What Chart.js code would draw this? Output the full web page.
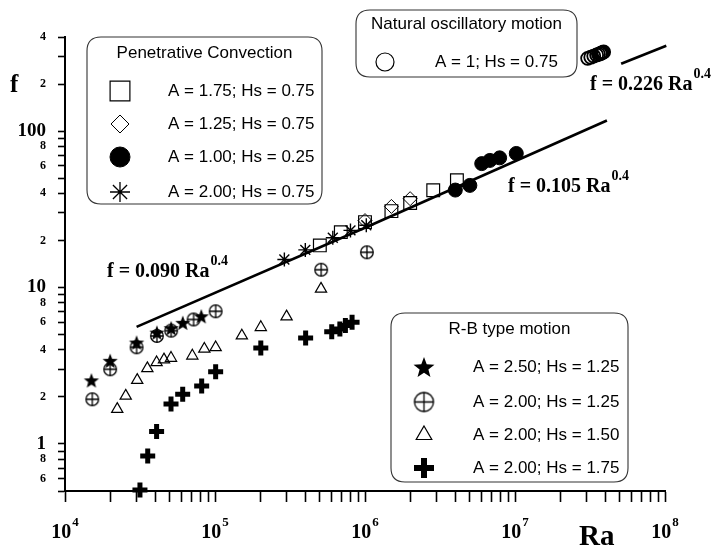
<!DOCTYPE html>
<html>
<head>
<meta charset="utf-8">
<script src="https://cdn.jsdelivr.net/npm/chart.js@4.4.1/dist/chart.umd.min.js"></script>
<style>
  html, body { margin: 0; padding: 0; background: #fff; }
</style>
</head>
<body>
<canvas id="raChart" width="711" height="554"></canvas>
<script>
// ---- data ----
// Penetrative convection
const squareRa = [5.0e5, 6.9e5, 1.0e6, 1.5e6, 2.0e6, 2.85e6, 4.1e6];
const squareF  = [18.6, 22.6, 26.2, 30.8, 34.7, 41.9, 48.5];
const diamondRa = [1.0e6, 1.5e6, 2.0e6];
const diamondF  = [26.8, 33.0, 37.0];
const dotRa = [4.0e6, 5.0e6, 6.0e6, 6.8e6, 7.9e6, 1.02e7];
const dotF  = [42, 45, 62, 65, 67.5, 72];
const asterRa = [2.9e5, 4.0e5, 6.1e5, 8.0e5, 1.02e6];
const asterF  = [15.1, 17.4, 20.8, 23.2, 25.0];

// Natural oscillatory motion
const oscRa = [3.05e7, 3.2e7, 3.35e7, 3.5e7, 3.6e7, 3.7e7, 3.75e7, 3.8e7, 3.85e7, 3.9e7];
const oscF  = [292, 297, 302, 307, 310, 313, 315, 317, 319, 321];

// R-B type motion
const starRa = [1.5e4, 2.0e4, 3.0e4, 4.1e4, 5.1e4, 6.1e4, 8.1e4];
const starF  = [2.55, 3.4, 4.45, 5.15, 5.5, 5.95, 6.55];
const oplusRa = [1.52e4, 2.0e4, 3.0e4, 4.1e4, 5.1e4, 7.2e4, 1.01e5, 5.1e5, 1.03e6];
const oplusF  = [1.93, 3.0, 4.15, 4.9, 5.3, 6.25, 7.05, 13.0, 16.8];
const triRa = [2.23e4, 2.54e4, 3.03e4, 3.54e4, 4.08e4, 4.57e4, 5.09e4, 7.06e4, 8.49e4, 1.01e5, 1.51e5, 2.02e5, 3.0e5, 5.09e5];
const triF  = [1.67, 2.03, 2.56, 3.04, 3.32, 3.46, 3.54, 3.66, 4.05, 4.14, 4.92, 5.57, 6.52, 9.81];
const plusRa = [3.16e4, 3.56e4, 4.08e4, 5.09e4, 6.09e4, 8.15e4, 1.01e5, 2.02e5, 4.02e5, 6.0e5, 6.8e5, 7.4e5, 8.2e5];
const plusF  = [0.507, 0.838, 1.2, 1.8, 2.08, 2.35, 2.89, 4.1, 4.76, 5.22, 5.43, 5.71, 5.99];

// fitted lines (end points)
const fit090Ra = [3.0e4, 1.0e6];
const fit090F  = [5.6, 24.1];
const fit105Ra = [1.0e6, 4.1e7];
const fit105F  = [24.1, 117];
const fit226Ra = [5.1e7, 1.02e8];
const fit226F  = [270, 352];

// axes
const xDecades = [4, 5, 6, 7, 8];
const yTickVals   = [0.5, 0.6, 0.7, 0.8, 0.9, 1, 2, 3, 4, 5, 6, 7, 8, 9, 10, 20, 30, 40, 50, 60, 70, 80, 90, 100, 200, 300, 400];
const yTickLabels = ['', '6', '', '8', '', '1', '2', '', '4', '', '6', '', '8', '', '10', '2', '', '4', '', '6', '', '8', '', '100', '2', '', '4'];
const yMajor = [1, 10, 100];

const penTitle = 'Penetrative Convection';
const penLabels = ['A = 1.75; Hs = 0.75', 'A = 1.25; Hs = 0.75', 'A = 1.00; Hs = 0.25', 'A = 2.00; Hs = 0.75'];
const oscTitle = 'Natural oscillatory motion';
const oscLabel = 'A = 1; Hs = 0.75';
const rbTitle = 'R-B type motion';
const rbLabels = ['A = 2.50; Hs = 1.25', 'A = 2.00; Hs = 1.25', 'A = 2.00; Hs = 1.50', 'A = 2.00; Hs = 1.75'];

const serif = '"Liberation Serif", "Times New Roman", serif';
const sans = '"Liberation Sans", Arial, sans-serif';

// ---- custom marker images ----
function starCanvas(R) {
  const c = document.createElement('canvas');
  const s = Math.ceil(R * 2 + 2);
  c.width = s; c.height = s;
  const g = c.getContext('2d');
  g.translate(s / 2, s / 2 + R * 0.1);
  g.beginPath();
  for (let i = 0; i < 10; i++) {
    const r = i % 2 === 0 ? R : R * 0.42;
    const a = -Math.PI / 2 + i * Math.PI / 5;
    g.lineTo(r * Math.cos(a), r * Math.sin(a));
  }
  g.closePath();
  g.fillStyle = '#000';
  g.fill();
  return c;
}

function oplusCanvas(R, lw) {
  const c = document.createElement('canvas');
  const s = Math.ceil(R * 2 + lw + 2);
  c.width = s; c.height = s;
  const g = c.getContext('2d');
  g.translate(s / 2, s / 2);
  g.strokeStyle = '#000';
  g.lineWidth = lw;
  g.beginPath();
  g.arc(0, 0, R, 0, Math.PI * 2);
  g.moveTo(-R, 0); g.lineTo(R, 0);
  g.moveTo(0, -R); g.lineTo(0, R);
  g.stroke();
  return c;
}

const starImg = starCanvas(8);
const oplusImg = oplusCanvas(6.3, 1.3);
const starImgBig = starCanvas(11);
const oplusImgBig = oplusCanvas(9.5, 1.3);

function pts(xs, ys) {
  return xs.map((x, i) => ({ x: x, y: ys[i] }));
}

function markers(label, xs, ys, style, radius, fill, bw) {
  return {
    label: label,
    data: pts(xs, ys),
    pointStyle: style,
    pointRadius: radius,
    pointHoverRadius: radius,
    pointBackgroundColor: fill,
    pointBorderColor: '#000',
    pointBorderWidth: bw,
    showLine: false,
    clip: false
  };
}

function fitLine(label, xs, ys) {
  return {
    label: label,
    data: pts(xs, ys),
    showLine: true,
    borderColor: '#000',
    borderWidth: 2.6,
    pointRadius: 0,
    fill: false,
    clip: false
  };
}

const datasets = [
  markers(penLabels[2], dotRa, dotF, 'circle', 7, '#000', 1),
  markers(penLabels[0], squareRa, squareF, 'rect', 9, 'rgba(0,0,0,0)', 1.2),
  markers(penLabels[1], diamondRa, diamondF, 'rectRot', 7, 'rgba(0,0,0,0)', 1),
  markers(penLabels[3], asterRa, asterF, 'star', 7, 'rgba(0,0,0,0)', 1.4),
  markers(oscLabel, oscRa, oscF, 'circle', 6.5, 'rgba(0,0,0,0)', 1.8),
  markers(rbLabels[0], starRa, starF, starImg, 8, '#000', 1),
  markers(rbLabels[1], oplusRa, oplusF, oplusImg, 7, 'rgba(0,0,0,0)', 1),
  markers(rbLabels[2], triRa, triF, 'triangle', 6.5, 'rgba(0,0,0,0)', 1.2),
  markers(rbLabels[3], plusRa, plusF, 'cross', 7.5, '#000', 5),
  fitLine('f = 0.090 Ra^0.4', fit090Ra, fit090F),
  fitLine('f = 0.105 Ra^0.4', fit105Ra, fit105F),
  fitLine('f = 0.226 Ra^0.4', fit226Ra, fit226F)
];

// ---- drawing helpers ----
function roundBox(ctx, x, y, w, h, r) {
  ctx.beginPath();
  ctx.moveTo(x + r, y);
  ctx.lineTo(x + w - r, y);
  ctx.quadraticCurveTo(x + w, y, x + w, y + r);
  ctx.lineTo(x + w, y + h - r);
  ctx.quadraticCurveTo(x + w, y + h, x + w - r, y + h);
  ctx.lineTo(x + r, y + h);
  ctx.quadraticCurveTo(x, y + h, x, y + h - r);
  ctx.lineTo(x, y + r);
  ctx.quadraticCurveTo(x, y, x + r, y);
  ctx.closePath();
}

function symbol(ctx, sym, x, y) {
  ctx.save();
  ctx.strokeStyle = '#000';
  ctx.fillStyle = sym.fill || 'rgba(0,0,0,0)';
  ctx.lineWidth = sym.lw || 1;
  Chart.helpers.drawPoint(ctx, { pointStyle: sym.style, radius: sym.r, rotation: 0, borderWidth: sym.lw || 1 }, x, y);
  ctx.restore();
}

function powerText(ctx, x, y, base, exp, big, small, rise) {
  ctx.textAlign = 'left';
  ctx.textBaseline = 'alphabetic';
  ctx.font = 'bold ' + big + 'px ' + serif;
  ctx.fillText(base, x, y);
  const w = ctx.measureText(base).width;
  ctx.font = 'bold ' + small + 'px ' + serif;
  ctx.fillText(exp, x + w + 1, y - rise);
}

const legendBoxes = [
  {
    title: penTitle, x: 87, y: 37, w: 235, h: 167, titleY: 53, symX: 120, textX: 168,
    rows: [91, 124, 157, 192],
    labels: penLabels,
    syms: [
      { style: 'rect', r: 14, lw: 1.2 },
      { style: 'rectRot', r: 9, lw: 1 },
      { style: 'circle', r: 10, fill: '#000' },
      { style: 'star', r: 10, lw: 1.3 }
    ]
  },
  {
    title: oscTitle, x: 356, y: 10, w: 221, h: 67, titleY: 24, symX: 385, textX: 435,
    rows: [62],
    labels: [oscLabel],
    syms: [{ style: 'circle', r: 9, lw: 1.2 }]
  },
  {
    title: rbTitle, x: 391, y: 313, w: 237, h: 169, titleY: 329, symX: 424, textX: 473,
    rows: [367, 402, 435, 468],
    labels: rbLabels,
    syms: [
      { style: starImgBig, r: 10 },
      { style: oplusImgBig, r: 10 },
      { style: 'triangle', r: 9, lw: 1.2 },
      { style: 'cross', r: 10, lw: 6 }
    ]
  }
];

const annotate = {
  id: 'annotate',
  afterDraw(chart) {
    const ctx = chart.ctx;
    const xs = chart.scales.x;
    ctx.save();
    ctx.fillStyle = '#000';

    // x tick labels 10^n
    xDecades.forEach(p => {
      const px = xs.getPixelForValue(Math.pow(10, p));
      ctx.font = 'bold 20px ' + serif;
      const w1 = ctx.measureText('10').width;
      ctx.font = 'bold 13px ' + serif;
      const w2 = ctx.measureText(String(p)).width;
      powerText(ctx, px - (w1 + w2 + 1) / 2, 538, '10', String(p), 20, 13, 12);
    });

    // axis titles
    ctx.textAlign = 'left';
    ctx.textBaseline = 'alphabetic';
    ctx.font = 'bold 25px ' + serif;
    ctx.fillText('f', 10, 92);
    ctx.font = 'bold 29px ' + serif;
    ctx.fillText('Ra', 579, 545);

    // fit labels
    powerText(ctx, 107, 277, 'f = 0.090 Ra', '0.4', 20, 14, 12);
    powerText(ctx, 508, 192, 'f = 0.105 Ra', '0.4', 20, 14, 12);
    powerText(ctx, 590, 90, 'f = 0.226 Ra', '0.4', 20, 14, 12);

    // legend boxes
    legendBoxes.forEach(b => {
      ctx.save();
      ctx.fillStyle = '#fff';
      roundBox(ctx, b.x, b.y, b.w, b.h, 14);
      ctx.fill();
      ctx.strokeStyle = '#333';
      ctx.lineWidth = 1.1;
      ctx.stroke();
      ctx.fillStyle = '#000';
      ctx.font = '17px ' + sans;
      ctx.textBaseline = 'middle';
      ctx.textAlign = 'center';
      ctx.fillText(b.title, b.x + b.w / 2, b.titleY);
      ctx.textAlign = 'left';
      b.rows.forEach((ry, i) => {
        symbol(ctx, b.syms[i], b.symX, ry);
        ctx.fillStyle = '#000';
        ctx.fillText(b.labels[i], b.textX, ry);
      });
      ctx.restore();
    });
    ctx.restore();
  }
};

const ctx = document.getElementById('raChart').getContext('2d');
new Chart(ctx, {
  type: 'scatter',
  data: { datasets: datasets },
  plugins: [annotate],
  options: {
    responsive: false,
    animation: false,
    layout: { padding: { top: 37, right: 46, left: 0, bottom: 0 } },
    plugins: {
      legend: { display: false },
      tooltip: { enabled: false }
    },
    scales: {
      x: {
        type: 'logarithmic',
        min: 1e4,
        max: 1e8,
        afterBuildTicks: scale => {
          const t = [];
          xDecades.forEach(p => {
            const base = Math.pow(10, p);
            t.push({ value: base });
            if (p < 8) for (let m = 2; m <= 9; m++) t.push({ value: m * base });
          });
          scale.ticks = t;
        },
        afterFit: scale => { scale.height = 63; },
        ticks: { display: false, autoSkip: false },
        grid: {
          drawOnChartArea: false,
          drawTicks: true,
          tickLength: 11,
          tickColor: '#000',
          tickWidth: 1.6
        },
        border: { display: true, color: '#000', width: 2 }
      },
      y: {
        type: 'logarithmic',
        min: 0.5,
        max: 400,
        afterBuildTicks: scale => {
          scale.ticks = yTickVals.map(v => ({ value: v }));
        },
        afterFit: scale => { scale.width = 65; },
        ticks: {
          autoSkip: false,
          padding: 12,
          color: '#000',
          callback: (value, index) => yTickLabels[index],
          font: context => {
            const v = context.tick ? context.tick.value : 0;
            return yMajor.includes(v)
              ? { family: serif, size: 19, weight: 'bold' }
              : { family: serif, size: 12, weight: 'bold' };
          }
        },
        grid: {
          drawOnChartArea: false,
          drawTicks: true,
          tickLength: 7,
          tickColor: '#000',
          tickWidth: 1.6
        },
        border: { display: true, color: '#000', width: 2 }
      }
    }
  }
});
</script>
</body>
</html>
